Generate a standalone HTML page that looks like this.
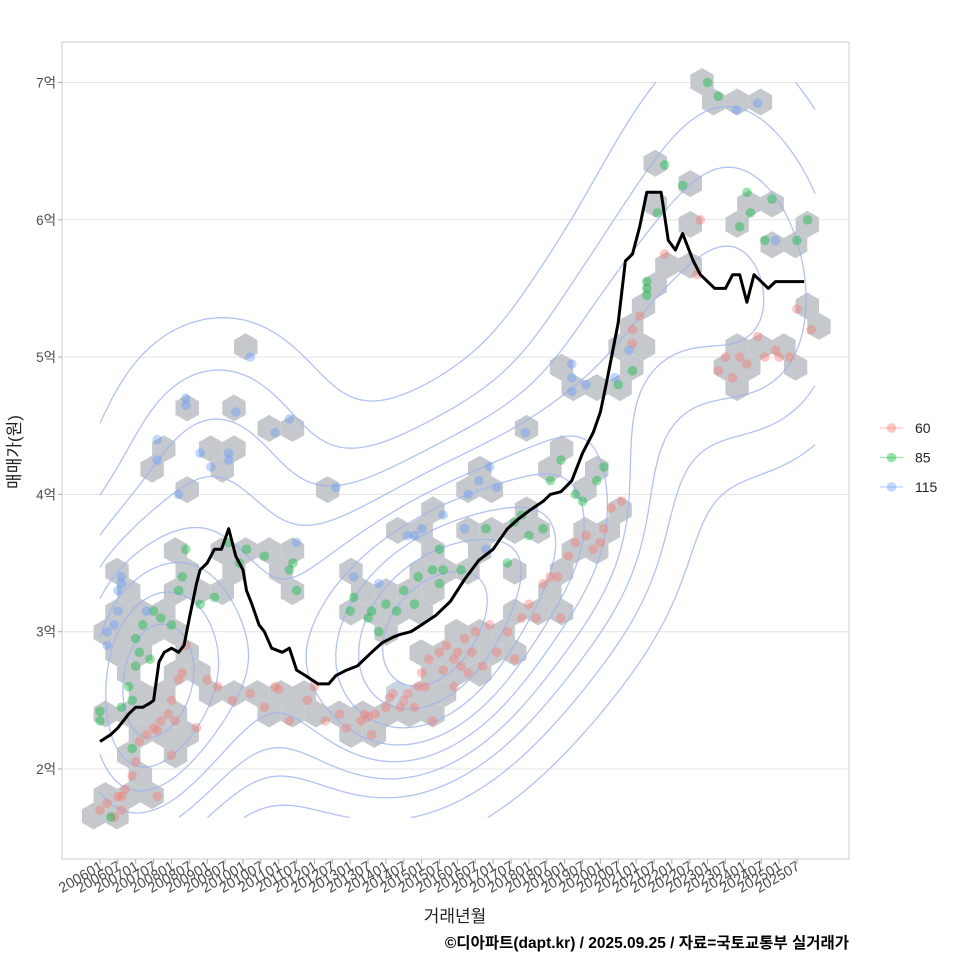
<!DOCTYPE html>
<html><head><meta charset="utf-8">
<style>
html,body{margin:0;padding:0;background:#fff;}
svg{display:block;font-family:"Liberation Sans","Noto Sans CJK KR",sans-serif;}
</style></head>
<body>
<svg id="chart" width="960" height="960" viewBox="0 0 960 960" xmlns="http://www.w3.org/2000/svg">
<rect x="0" y="0" width="960" height="960" fill="#fff"/>
<rect x="62" y="42" width="787" height="817" fill="#fff" stroke="#cccccc" stroke-width="1"/>
<g id="grid"></g>
<g id="hexes"></g>
<g id="contours"></g>
<g id="points"></g>
<g id="line"></g>
<g id="yaxis"></g>
<g id="xaxis"></g>
<text x="20" y="452" transform="rotate(-90 20 452)" text-anchor="middle" font-size="17" fill="#222">매매가(원)</text>
<text x="455" y="922" text-anchor="middle" font-size="17" fill="#222">거래년월</text>
<text x="849" y="948" text-anchor="end" font-size="15.5" font-weight="bold" fill="#000">©디아파트(dapt.kr) / 2025.09.25 / 자료=국토교통부 실거래가</text>
<g id="legend"></g>
</svg>
<script>
const yTicks = [2,3,4,5,6,7];
const yTickLabels = ["2억","3억","4억","5억","6억","7억"];
const lineDates = [2006.0,2006.3,2006.5,2006.8,2007.0,2007.2,2007.4,2007.5,2007.65,2007.8,2008.0,2008.2,2008.35,2008.5,2008.7,2008.8,2009.0,2009.2,2009.4,2009.6,2009.8,2010.0,2010.1,2010.25,2010.45,2010.6,2010.8,2011.1,2011.3,2011.5,2011.75,2012.1,2012.4,2012.6,2012.9,2013.2,2013.6,2013.9,2014.2,2014.4,2014.7,2015.0,2015.4,2015.8,2016.2,2016.6,2017.0,2017.4,2017.7,2018.0,2018.4,2018.6,2018.9,2019.2,2019.5,2019.8,2020.0,2020.2,2020.5,2020.7,2020.9,2021.1,2021.3,2021.5,2021.7,2021.9,2022.1,2022.3,2022.6,2022.8,2023.0,2023.2,2023.5,2023.7,2023.9,2024.1,2024.3,2024.5,2024.7,2024.9,2025.1,2025.3,2025.5,2025.7];
const lineValues = [2.2,2.25,2.3,2.4,2.45,2.45,2.48,2.5,2.78,2.85,2.88,2.85,2.9,3.1,3.35,3.45,3.5,3.6,3.6,3.75,3.55,3.45,3.3,3.2,3.05,3.0,2.88,2.85,2.88,2.72,2.68,2.62,2.62,2.68,2.72,2.75,2.85,2.92,2.96,2.98,3.0,3.05,3.12,3.22,3.38,3.52,3.6,3.75,3.82,3.88,3.95,4.0,4.02,4.1,4.3,4.45,4.6,4.85,5.25,5.7,5.75,5.95,6.2,6.2,6.2,5.85,5.78,5.9,5.7,5.6,5.55,5.5,5.5,5.6,5.6,5.4,5.6,5.55,5.5,5.55,5.55,5.55,5.55,5.55];
const redDates = [2006.0,2006.2,2006.4,2006.5,2006.6,2006.7,2006.6,2006.9,2007.0,2007.1,2007.3,2007.5,2007.6,2007.7,2007.9,2008.0,2008.0,2008.2,2008.3,2008.4,2008.1,2007.6,2008.7,2009.0,2009.3,2009.7,2010.2,2010.9,2011.0,2010.6,2011.3,2011.8,2012.0,2012.3,2012.7,2012.9,2013.3,2013.4,2013.6,2014.0,2014.2,2014.5,2014.8,2014.9,2015.0,2015.2,2015.3,2015.5,2015.7,2015.9,2016.0,2016.2,2016.3,2016.5,2016.7,2016.9,2017.1,2017.4,2017.6,2017.8,2018.0,2018.2,2018.4,2018.6,2018.8,2018.9,2019.1,2019.3,2019.6,2019.8,2020.0,2020.1,2020.3,2020.6,2020.9,2020.9,2021.1,2021.8,2022.7,2022.8,2023.3,2023.5,2023.7,2023.9,2024.1,2024.4,2024.6,2024.9,2025.0,2025.5,2025.3,2025.9,2016.4,2015.9,2016.1,2013.5,2013.7,2014.1,2014.4,2014.6,2015.1,2015.6];
const redValues = [1.7,1.75,1.65,1.8,1.8,1.85,1.7,1.95,2.05,2.2,2.25,2.3,2.28,2.35,2.4,2.5,2.1,2.65,2.7,2.9,2.35,1.8,2.3,2.65,2.6,2.5,2.55,2.6,2.58,2.45,2.35,2.5,2.6,2.35,2.4,2.3,2.35,2.4,2.25,2.45,2.55,2.5,2.45,2.6,2.7,2.8,2.35,2.85,2.9,2.8,2.85,2.95,2.7,3.0,2.75,3.05,2.85,3.0,2.8,3.1,3.2,3.1,3.35,3.4,3.4,3.1,3.55,3.65,3.7,3.6,3.65,3.75,3.9,3.95,5.1,5.2,5.3,5.75,5.6,6.0,4.9,5.0,4.85,5.0,4.95,5.15,5.0,5.05,5.0,5.35,5.0,5.2,2.85,2.6,2.75,2.38,2.4,2.52,2.45,2.55,2.6,2.72];
const greenDates = [2006.0,2006.0,2006.3,2006.6,2006.8,2006.9,2006.9,2007.0,2007.0,2007.1,2007.2,2007.4,2007.5,2007.7,2008.0,2008.2,2008.3,2008.4,2008.8,2009.2,2009.6,2009.9,2010.1,2010.6,2011.3,2011.4,2011.5,2013.0,2013.1,2013.6,2013.8,2014.0,2014.3,2014.5,2014.8,2014.9,2015.3,2015.5,2015.6,2015.5,2016.1,2016.8,2017.4,2017.6,2017.8,2018.0,2018.4,2018.6,2018.9,2019.3,2019.5,2019.9,2020.1,2020.5,2020.9,2021.3,2021.3,2021.3,2021.6,2021.8,2022.3,2023.0,2023.3,2024.1,2024.2,2024.6,2024.8,2025.5,2025.8,2023.9,2013.5];
const greenValues = [2.35,2.42,1.65,2.45,2.6,2.5,2.15,2.75,2.95,2.85,3.05,2.8,3.15,3.1,3.05,3.3,3.4,3.6,3.2,3.25,3.65,3.5,3.6,3.55,3.45,3.5,3.3,3.15,3.25,3.15,3.0,3.2,3.15,3.3,3.2,3.4,3.45,3.35,3.45,3.6,3.45,3.75,3.5,3.8,3.85,3.7,3.75,4.1,4.25,4.0,3.95,4.1,4.2,4.8,4.9,5.45,5.5,5.55,6.05,6.4,6.25,7.0,6.9,6.2,6.05,5.85,6.15,5.85,6.0,5.95,3.1];
const blueDates = [2006.2,2006.5,2006.6,2006.6,2006.5,2006.4,2006.2,2007.3,2007.6,2007.6,2008.2,2008.4,2008.4,2008.8,2009.1,2009.6,2009.6,2009.8,2010.2,2010.9,2011.3,2011.5,2012.6,2013.1,2013.8,2014.6,2014.8,2015.0,2015.6,2016.3,2016.6,2016.9,2017.1,2016.2,2017.9,2019.2,2019.2,2019.2,2019.6,2020.4,2020.8,2023.8,2024.4,2024.9,2016.8];
const blueValues = [3.0,3.3,3.35,3.4,3.15,3.05,2.9,3.15,4.25,4.4,4.0,4.7,4.65,4.3,4.2,4.3,4.25,4.6,5.0,4.45,4.55,3.65,4.05,3.4,3.35,3.7,3.7,3.75,3.85,4.0,4.1,4.2,4.05,3.75,4.45,4.85,4.75,4.95,4.8,4.85,5.05,6.8,6.85,5.85,3.6];
const seriesNames = ["60","85","115"];
const seriesColors = ["#F8766D","#00BA38","#619CFF"];

const NS = "http://www.w3.org/2000/svg";
function xScale(yr){ return 100 + (yr-2006)*35.74; }
function yScale(v){ return 769 - (v-2)*137.3; }
function mk(tag, attrs, parent){ const e=document.createElementNS(NS,tag); for(const k in attrs) e.setAttribute(k,attrs[k]); parent.appendChild(e); return e; }

const grid=document.getElementById('grid'), yax=document.getElementById('yaxis');
yTicks.forEach((t,i)=>{
  const y=yScale(t);
  const gl=mk('line',{x1:62,x2:849,y1:y,y2:y,stroke:'#e3e3e3','stroke-width':1},grid);
  
  
  const tk=mk('line',{x1:58,x2:62,y1:y,y2:y,stroke:'#aaa'},yax);
  
  
  const tx=mk('text',{x:56,y:y+5,'text-anchor':'end','font-size':13.5,fill:'#4d4d4d'},yax);
  tx.textContent=yTickLabels[i];
  
  
});
const xax=document.getElementById('xaxis');
for(let i=0;i<40;i++){
  const yr=2006+i*0.5, x=xScale(yr);
  const lab=String(2006+Math.floor(i/2))+(i%2?'07':'01');
  const tk=mk('line',{x1:x,x2:x,y1:859,y2:864,stroke:'#aaa'},xax);
  
  
  const tx=mk('text',{x:x+4,y:869,'text-anchor':'end','font-size':14.5,fill:'#4d4d4d',transform:`rotate(-30 ${x+4} 869)`},xax);
  tx.textContent=lab;
  
  
}
const allPts=[];
[[redDates,redValues],[greenDates,greenValues],[blueDates,blueValues]].forEach((s,si)=>{
  s[0].forEach((d,i)=>allPts.push({x:xScale(d),y:yScale(s[1][i]),s:si}));
});
const hw=23.4, hh=20.4, hexG=document.getElementById('hexes');
const bins={};
allPts.forEach(p=>{
  let best=null,bd=1e9;
  const r0=Math.round(p.y/hh);
  for(let r=r0-1;r<=r0+1;r++){
    const off=(r%2)?hw/2:0;
    const c0=Math.round((p.x-off)/hw);
    for(let c=c0-1;c<=c0+1;c++){
      const cx=c*hw+off, cy=r*hh, d=(cx-p.x)**2+(cy-p.y)**2;
      if(d<bd){bd=d;best=[cx,cy,r+'_'+c];}
    }
  }
  bins[best[2]]=bins[best[2]]||{x:best[0],y:best[1],n:0};
  bins[best[2]].n++;
});
const R=hw/Math.sqrt(3);
Object.values(bins).forEach(b=>{
  let pts=[];
  for(let k=0;k<6;k++){const a=Math.PI/3*k+Math.PI/6; pts.push((b.x+R*Math.cos(a)).toFixed(1)+','+(b.y+R*Math.sin(a)).toFixed(1));}
  const h=mk('polygon',{points:pts.join(' '),fill:b.n>=4?'#c9d6e2':'#c5c8cc'},hexG);
  
  
});
let minX=1e9,maxX=-1e9,minY=1e9,maxY=-1e9;
allPts.forEach(p=>{minX=Math.min(minX,p.x);maxX=Math.max(maxX,p.x);minY=Math.min(minY,p.y);maxY=Math.max(maxY,p.y);});
const step=5, gx0=minX, gy0=minY, nx=Math.ceil((maxX-minX)/step)+1, ny=Math.ceil((maxY-minY)/step)+1;
const bx=60, by=78, dens=[];
let mx=0;
for(let j=0;j<ny;j++){dens.push([]);for(let i=0;i<nx;i++){
  const X=gx0+i*step,Y=gy0+j*step;let s=0;
  for(const p of allPts){const dx=(X-p.x)/bx,dy=(Y-p.y)/by;s+=Math.exp(-0.5*(dx*dx+dy*dy));}
  dens[j].push(s); if(s>mx)mx=s;}}
let d='';
const levels=[];for(let k=1;k<=9;k++)levels.push(mx*k/10);
function lerp(a,b,l){return (l-a)/(b-a);}
levels.forEach(L=>{
  for(let j=0;j<ny-1;j++)for(let i=0;i<nx-1;i++){
    const a=dens[j][i],b=dens[j][i+1],c=dens[j+1][i+1],e=dens[j+1][i];
    const X=gx0+i*step,Y=gy0+j*step,e2=[];
    if((a>L)!==(b>L))e2.push([X+step*lerp(a,b,L),Y]);
    if((b>L)!==(c>L))e2.push([X+step,Y+step*lerp(b,c,L)]);
    if((e>L)!==(c>L))e2.push([X+step*lerp(e,c,L),Y+step]);
    if((a>L)!==(e>L))e2.push([X,Y+step*lerp(a,e,L)]);
    for(let k=0;k+1<e2.length;k+=2)d+=`M${e2[k][0].toFixed(1)},${e2[k][1].toFixed(1)}L${e2[k+1][0].toFixed(1)},${e2[k+1][1].toFixed(1)}`;
  }
});
const cp=mk('path',{d:d,fill:'none',stroke:'#9fb3ef','stroke-width':1.3,'stroke-opacity':0.8},document.getElementById('contours'));


const pg=document.getElementById('points');
allPts.forEach(p=>{
  const c=mk('circle',{cx:p.x.toFixed(1),cy:p.y.toFixed(1),r:4.8,fill:seriesColors[p.s],'fill-opacity':0.4},pg);
  
  
});
const lp=lineDates.map((dt,i)=>(i?'L':'M')+xScale(dt).toFixed(1)+','+yScale(lineValues[i]).toFixed(1)).join('');
const ln=mk('path',{d:lp,fill:'none',stroke:'#000','stroke-width':3,'stroke-linejoin':'round'},document.getElementById('line'));


const lg=document.getElementById('legend');
seriesNames.forEach((n,i)=>{
  const y=428+i*29.5;
  const g=mk('g',{},lg);
  
  
  mk('line',{x1:880,x2:903,y1:y,y2:y,stroke:seriesColors[i],'stroke-opacity':0.35,'stroke-width':1.5},g);
  mk('circle',{cx:891.5,cy:y,r:4.8,fill:seriesColors[i],'fill-opacity':0.4},g);
  const t=mk('text',{x:915,y:y+5,'font-size':14,fill:'#222'},g);
  t.textContent=n;
});
</script>
</body></html>
